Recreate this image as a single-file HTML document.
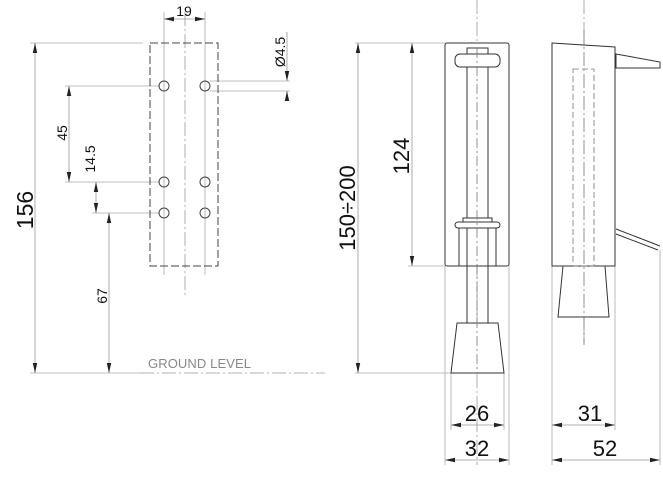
<!DOCTYPE html>
<html><head><style>html,body{margin:0;padding:0;background:#fff}svg{display:block}</style></head>
<body>
<svg width="663" height="480" viewBox="0 0 663 480" xmlns="http://www.w3.org/2000/svg" font-family="Liberation Sans, sans-serif">
<defs>
<marker id="a" markerWidth="10" markerHeight="6" refX="10" refY="3" orient="auto" markerUnits="userSpaceOnUse"><path d="M0,0.8 L10,3 L0,5.2 Z" fill="#222"/></marker>
<marker id="b" markerWidth="10" markerHeight="6" refX="0" refY="3" orient="auto" markerUnits="userSpaceOnUse"><path d="M10,0.8 L0,3 L10,5.2 Z" fill="#222"/></marker>
</defs>
<g stroke="#aaa" stroke-width="0.8" fill="none">
<line x1="30" y1="43" x2="143" y2="43"/>
<line x1="30" y1="373" x2="140" y2="373"/>
<line x1="65" y1="86" x2="160" y2="86"/>
<line x1="65" y1="182" x2="160" y2="182"/>
<line x1="92" y1="213" x2="160" y2="213"/>
<line x1="210" y1="81" x2="290" y2="81"/>
<line x1="210" y1="91" x2="290" y2="91"/>
<line x1="164" y1="12" x2="164" y2="275"/>
<line x1="205" y1="12" x2="205" y2="275"/>
<line x1="355" y1="43" x2="445" y2="43"/>
<line x1="355" y1="373" x2="452" y2="373"/>
<line x1="408" y1="266" x2="445" y2="266"/>
<line x1="445" y1="266" x2="445" y2="465"/>
<line x1="509" y1="266" x2="509" y2="465"/>
<line x1="451" y1="373" x2="451" y2="430"/>
<line x1="504" y1="373" x2="504" y2="430"/>
<line x1="552" y1="266" x2="552" y2="465"/>
<line x1="615" y1="266" x2="615" y2="430"/>
<line x1="660" y1="250" x2="660" y2="465"/>
</g>
<g stroke="#999" stroke-width="0.8" fill="none" stroke-dasharray="14,3,2,3">
<line x1="140" y1="373" x2="325" y2="373"/>
<line x1="185" y1="12" x2="185" y2="296"/>
<line x1="477" y1="0" x2="477" y2="465"/>
<line x1="584" y1="0" x2="584" y2="345"/>
</g>
<g stroke="#999" stroke-width="0.8">
<line x1="164" y1="19" x2="205" y2="19" marker-start="url(#b)" marker-end="url(#a)"/>
<line x1="35" y1="43" x2="35" y2="373" marker-start="url(#b)" marker-end="url(#a)"/>
<line x1="69" y1="86" x2="69" y2="182" marker-start="url(#b)" marker-end="url(#a)"/>
<line x1="96" y1="182" x2="96" y2="213" marker-start="url(#b)" marker-end="url(#a)"/>
<line x1="109" y1="213" x2="109" y2="373" marker-start="url(#b)" marker-end="url(#a)"/>
<line x1="287" y1="32" x2="287" y2="81" marker-end="url(#a)"/>
<line x1="287" y1="100" x2="287" y2="91" marker-end="url(#a)"/>
<line x1="358" y1="43" x2="358" y2="373" marker-start="url(#b)" marker-end="url(#a)"/>
<line x1="412" y1="43" x2="412" y2="266" marker-start="url(#b)" marker-end="url(#a)"/>
<line x1="451" y1="425" x2="504" y2="425" marker-start="url(#b)" marker-end="url(#a)"/>
<line x1="445" y1="460" x2="509" y2="460" marker-start="url(#b)" marker-end="url(#a)"/>
<line x1="552" y1="425" x2="615" y2="425" marker-start="url(#b)" marker-end="url(#a)"/>
<line x1="552" y1="460" x2="660" y2="460" marker-start="url(#b)" marker-end="url(#a)"/>
</g>
<g stroke="#444" stroke-width="1" fill="none">
<rect x="150" y="43" width="68" height="223" stroke-dasharray="8,3"/>
<circle cx="164" cy="86" r="5"/><circle cx="205" cy="86" r="5"/>
<circle cx="164" cy="182" r="5"/><circle cx="205" cy="182" r="5"/>
<circle cx="164" cy="213" r="5"/><circle cx="205" cy="213" r="5"/>
</g>
<g stroke="#333" stroke-width="1" fill="#fff">
<rect x="445" y="43" width="64" height="223" rx="2"/>
<rect x="467" y="48" width="21" height="275" fill="none"/>
<rect x="455" y="54" width="45" height="13" rx="5"/>
<rect x="463" y="218" width="29" height="4"/>
<rect x="455" y="222" width="45" height="6" rx="3"/>
<line x1="459" y1="228" x2="459" y2="266"/>
<line x1="496" y1="228" x2="496" y2="266"/>
<path d="M457,323 L498,323 L504,373 L451,373 Z"/>
</g>
<line x1="477" y1="48" x2="477" y2="373" stroke="#777" stroke-width="0.8" stroke-dasharray="10,3,2,3"/>
<g stroke="#333" stroke-width="1" fill="#fff">
<path d="M616,54 L660,62 L660,68 L616,68 Z"/>
<line x1="616" y1="229" x2="660" y2="246"/>
<line x1="616" y1="234" x2="658" y2="250"/>
<path d="M552,43 L615,47 L615,266 L552,266 Z"/>
<path d="M563,266 L605,266 L609,317 L558,317 Z"/>
</g>
<rect x="573" y="69" width="21" height="197" fill="none" stroke="#777" stroke-width="0.8" stroke-dasharray="6,3"/>
<line x1="584" y1="30" x2="584" y2="345" stroke="#777" stroke-width="0.8" stroke-dasharray="14,3,2,3"/>
<g fill="#111">
<text x="184" y="16" font-size="14" text-anchor="middle">19</text>
<text transform="translate(285,52) rotate(-90)" font-size="14" text-anchor="middle">Ø4.5</text>
<text transform="translate(33,210) rotate(-90)" font-size="23" text-anchor="middle">156</text>
<text transform="translate(67,133) rotate(-90)" font-size="14" text-anchor="middle">45</text>
<text transform="translate(95,159) rotate(-90)" font-size="14" text-anchor="middle">14.5</text>
<text transform="translate(107,296) rotate(-90)" font-size="14" text-anchor="middle">67</text>
<text transform="translate(355,208) rotate(-90)" font-size="22" text-anchor="middle">150÷200</text>
<text transform="translate(409,156) rotate(-90)" font-size="22" text-anchor="middle">124</text>
<text x="477" y="421" font-size="22" text-anchor="middle">26</text>
<text x="477" y="456" font-size="22" text-anchor="middle">32</text>
<text x="590" y="421" font-size="22" text-anchor="middle">31</text>
<text x="605" y="456" font-size="22" text-anchor="middle">52</text>
</g>
<text x="148" y="368" font-size="13" fill="#888" letter-spacing="1" textLength="104">GROUND LEVEL</text>
</svg>
</body></html>
